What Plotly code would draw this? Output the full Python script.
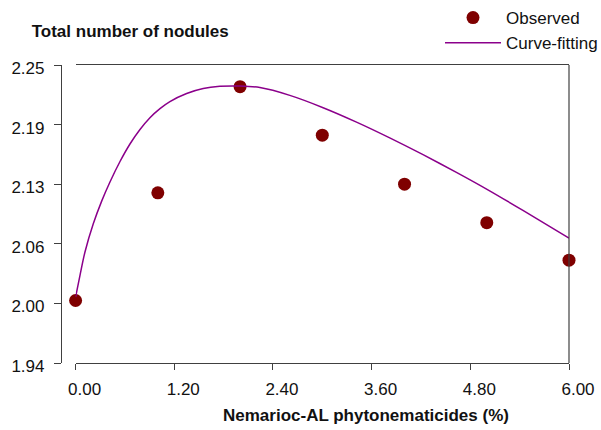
import plotly.graph_objects as go

# Observed data
obs_x = [0, 1, 2, 3, 4, 5, 6]
obs_y = [2.005, 2.117, 2.2275, 2.177, 2.126, 2.086, 2.047]

# Fitted curve
curve_x = [0.0, 0.054, 0.114, 0.215, 0.317, 0.418, 0.540, 0.661, 0.783, 0.904, 1.026, 1.147,
           1.350, 1.552, 1.754, 1.997, 2.241, 2.605, 3.010, 3.416, 3.820, 4.225, 4.631,
           5.035, 5.440, 6.0]
curve_y = [2.0085, 2.0315, 2.0555, 2.0848, 2.1084, 2.1283, 2.1496, 2.1678, 2.1829, 2.1952,
           2.2047, 2.2120, 2.2204, 2.2256, 2.2278, 2.2281, 2.2265, 2.2184, 2.2056, 2.1906,
           2.1742, 2.1567, 2.1383, 2.1191, 2.0987, 2.0698]

y_tickvals = [1.94, 2.002, 2.064, 2.126, 2.188, 2.25]
y_ticktext = ["1.94", "2.00", "2.06", "2.13", "2.19", "2.25"]
x_tickvals = [0, 1.2, 2.4, 3.6, 4.8, 6.0]
x_ticktext = ["0.00", "1.20", "2.40", "3.60", "4.80", "6.00"]

FONT = "Liberation Sans, Arial, sans-serif"
AX = "#404040"

fig = go.Figure()
fig.add_trace(go.Scatter(
    x=obs_x, y=obs_y, mode="markers", name="Observed",
    marker=dict(color="#7F0000", size=13, line=dict(width=0)),
    cliponaxis=False,
))
fig.add_trace(go.Scatter(
    x=curve_x, y=curve_y, mode="lines", name="Curve-fitting",
    line=dict(color="#8B008B", width=1.5, shape="spline", smoothing=0.8),
    cliponaxis=False,
))

W, H = 601, 430
ml, mr, mt, mb = 61, 32, 65, 67
pw = W - ml - mr
ph = H - mt - mb

fig.update_layout(
    width=W, height=H,
    margin=dict(l=ml, r=mr, t=mt, b=mb, autoexpand=False),
    paper_bgcolor="white", plot_bgcolor="white",
    font=dict(family=FONT, size=17, color="#111111"),
    showlegend=True,
    legend=dict(
        x=(506 - 66) / W, y=1 + 2 / H, xref="container", yref="container",
        xanchor="left", yanchor="top",
        bgcolor="rgba(0,0,0,0)", borderwidth=0,
        font=dict(size=17, family=FONT, color="#111111"),
        tracegroupgap=0, itemwidth=56,
    ),
    title=dict(
        text="<b>Total number of nodules</b>",
        x=31.7 / W, xanchor="left", xref="container",
        y=1 - 31 / H, yanchor="middle", yref="container",
        font=dict(size=17, family=FONT, color="#111111"),
    ),
    xaxis=dict(
        domain=[(75.6 - ml) / pw, 1],
        range=[0, 6], tickvals=x_tickvals, ticktext=x_ticktext,
        showline=True, linecolor=AX, linewidth=1.2, mirror=True,
        ticks="outside", ticklen=6, tickcolor=AX, tickwidth=1.2,
        ticklabelshift=9, ticklabelstandoff=4,
        showgrid=False, zeroline=False,
        tickfont=dict(size=17, family=FONT, color="#111111"),
    ),
    yaxis=dict(
        anchor="free", position=0,
        range=[1.94, 2.25], tickvals=y_tickvals, ticktext=y_ticktext,
        showline=True, linecolor=AX, linewidth=1.2,
        ticks="outside", ticklen=7, tickcolor=AX, tickwidth=1.2,
        ticklabelshift=3, ticklabelstandoff=6,
        showgrid=False, zeroline=False,
        tickfont=dict(size=17, family=FONT, color="#111111"),
    ),
    shapes=[dict(type="line", xref="x domain", yref="y domain", x0=1, x1=1, y0=0, y1=1,
                 line=dict(color=AX, width=1.2))],
    annotations=[dict(
        text="<b>Nemarioc-AL phytonematicides (%)</b>",
        x=(365.5 - ml) / pw, xref="paper", xanchor="center",
        y=(H - mb - 415) / ph, yref="paper", yanchor="middle",
        showarrow=False, font=dict(size=17, family=FONT, color="#111111"),
    )],
)

fig.write_html("out.html")
